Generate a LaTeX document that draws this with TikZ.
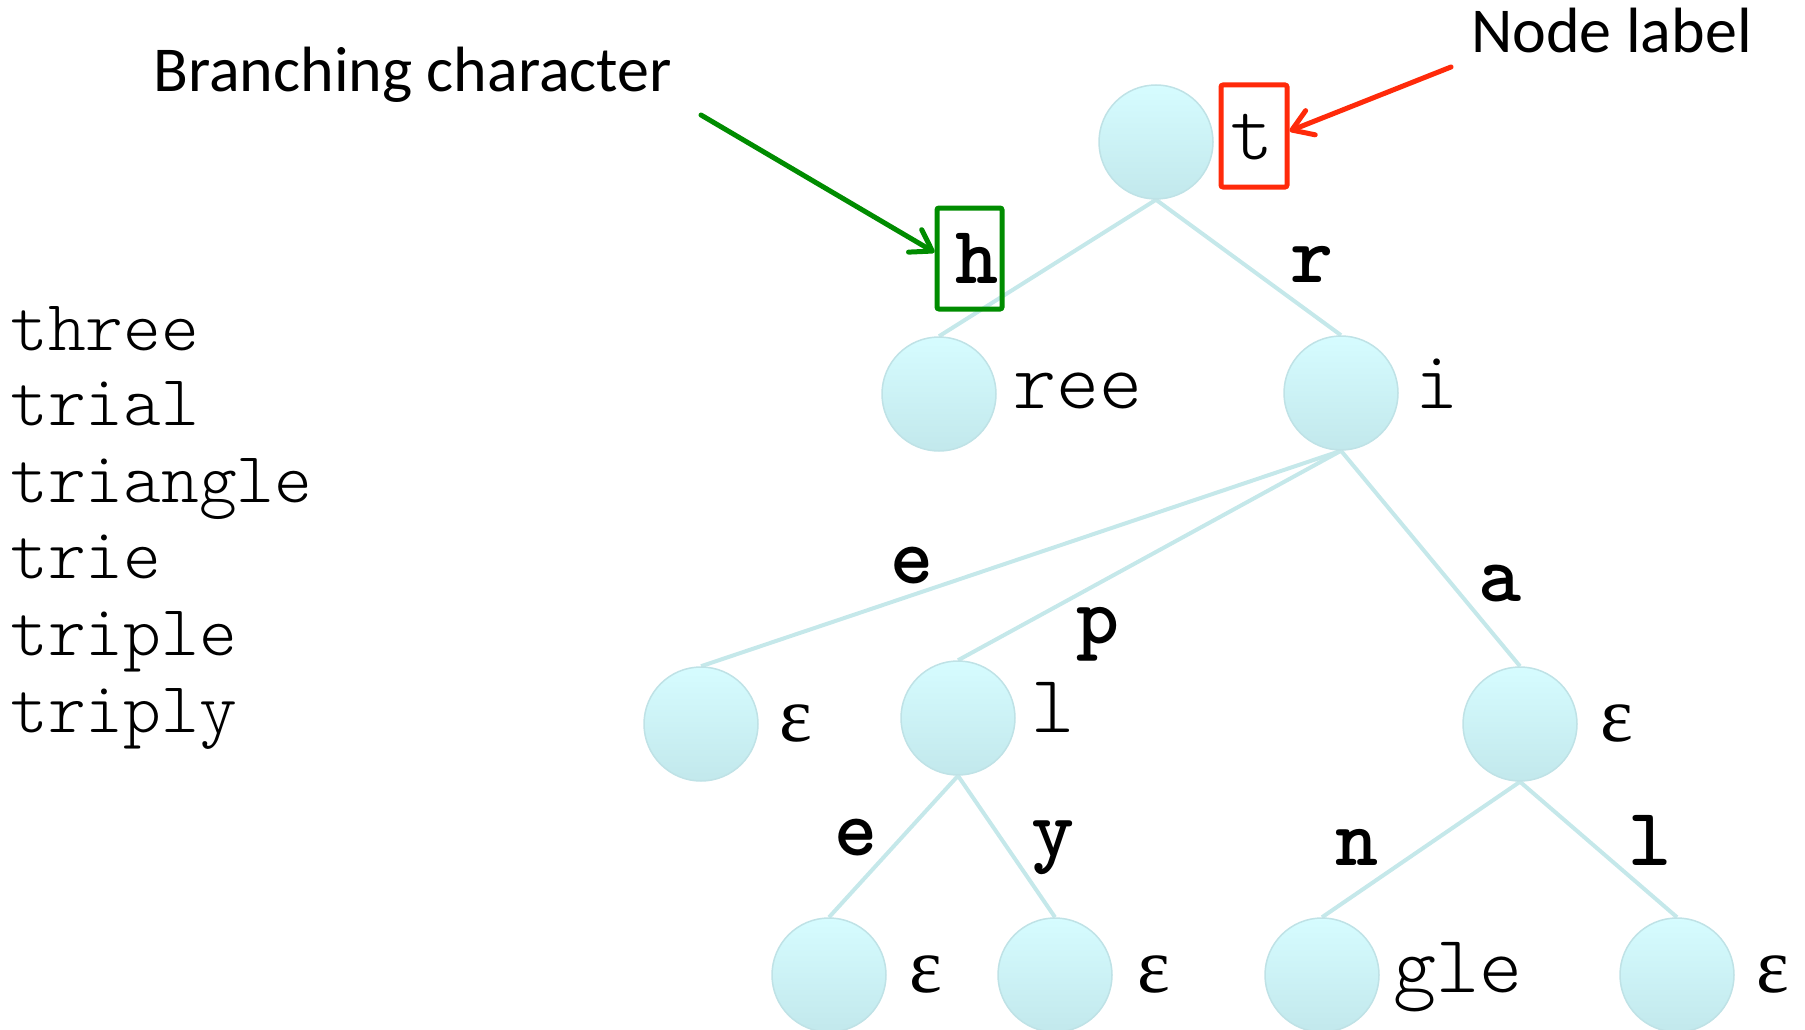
\documentclass[tikz,border=0pt]{standalone}
\usepackage{fontspec}
\setmainfont{Carlito}
\newfontfamily\greekserif{Liberation Serif}
\usetikzlibrary{arrows.meta}
\pgfdeclarelayer{bg}
\pgfsetlayers{bg,main}

\definecolor{nodetop}{HTML}{D6FCFF}
\definecolor{nodebot}{HTML}{C2E8EC}
\definecolor{nodeedge}{HTML}{BFE2E6}
\definecolor{edgecol}{HTML}{C5E8EA}
\definecolor{pointred}{HTML}{FF2A0A}
\definecolor{pointgreen}{HTML}{008C00}

% thin typewriter face for words and labels
\newcommand{\lighttt}{\ttfamily\fontseries{l}\selectfont}
\newcommand{\eps}{{\greekserif\fontsize{78pt}{86pt}\selectfont ε}}

\begin{document}
\begin{tikzpicture}[x=1pt,y=-1pt,
  trienode/.style={circle, minimum size=114pt, inner sep=0pt, draw=nodeedge,
    line width=1.5pt, top color=nodetop, bottom color=nodebot},
  edge/.style={draw=edgecol, line width=4pt},
  nodetext/.style={inner sep=0pt, font=\lighttt\fontsize{82pt}{90pt}\selectfont},
  chartext/.style={inner sep=0pt, anchor=base, font=\ttfamily\bfseries\fontsize{82pt}{90pt}\selectfont},
  wordtext/.style={inner sep=0pt, anchor=base west, font=\lighttt\fontsize{72pt}{80pt}\selectfont},
  calltext/.style={inner sep=0pt, anchor=base west, font=\fontsize{64pt}{72pt}\selectfont},
  markbox/.style={draw, line width=5pt, rounded corners=2pt, inner sep=0pt},
  pointer/.style={line width=5pt, line cap=round, line join=round,
    -{Straight Barb[length=20pt,width=26pt,line cap=round,line join=round]}}
]
\useasboundingbox (0,0) rectangle (1805,1030);

% word list
\node[wordtext] (w1) at (10,350) {three};
\node[wordtext] (w2) at (10,425) {trial};
\node[wordtext] (w3) at (10,502) {triangle};
\node[wordtext] (w4) at (10,578) {trie};
\node[wordtext] (w5) at (10,655) {triple};
\node[wordtext] (w6) at (10,732) {triply};

% trie nodes
\node[trienode] (root) at (1156,142) {};
\node[trienode] (ree)  at (939,394) {};
\node[trienode] (ri)   at (1341,393) {};
\node[trienode] (rie)  at (701,724) {};
\node[trienode] (ripl) at (958,718) {};
\node[trienode] (ria)  at (1520,724) {};
\node[trienode] (riple) at (829,975) {};
\node[trienode] (riply) at (1055,975) {};
\node[trienode] (rian)  at (1322,975) {};
\node[trienode] (rial)  at (1677,975) {};

% edges
\begin{pgfonlayer}{bg}
\draw[edge] (root.south) -- (ree.north);
\draw[edge] (root.south) -- (ri.north);
\draw[edge] (ri.south) -- (rie.north);
\draw[edge] (ri.south) -- (ripl.north);
\draw[edge] (ri.south) -- (ria.north);
\draw[edge] (ripl.south) -- (riple.north);
\draw[edge] (ripl.south) -- (riply.north);
\draw[edge] (ria.south) -- (rian.north);
\draw[edge] (ria.south) -- (rial.north);
\end{pgfonlayer}

% node labels
\node[nodetext, anchor=base] (lroot) at (1252,160) {t};
\node[nodetext, anchor=base west] (lree) at (1013,408) {ree};
\node[nodetext, anchor=base] (lri) at (1437,408) {i};
\node[nodetext, anchor=base] (lrie) at (796,741) {\eps};
\node[nodetext, anchor=base] (lripl) at (1053,732) {l};
\node[nodetext, anchor=base] (lria) at (1617,741) {\eps};
\node[nodetext, anchor=base] (lriple) at (926,992) {\eps};
\node[nodetext, anchor=base] (lriply) at (1154,992) {\eps};
\node[nodetext, anchor=base west] (lrian) at (1393,992) {gle};
\node[nodetext, anchor=base] (lrial) at (1773,992) {\eps};

% branching characters
\node[chartext] (ch) at (977,283) {h};
\node[chartext] (cr) at (1312,282) {r};
\node[chartext] (ce) at (912,583) {e};
\node[chartext] (cp) at (1098,643) {p};
\node[chartext] (ca) at (1500,601) {a};
\node[chartext] (cle) at (856,855) {e};
\node[chartext] (cly) at (1053,856) {y};
\node[chartext] (cn) at (1357,865) {n};
\node[chartext] (cl) at (1650,865) {l};

% highlight boxes
\node[markbox, draw=pointgreen, minimum width=65pt, minimum height=101pt] (hbox) at (969.5,258.5) {};
\node[markbox, draw=pointred, minimum width=66pt, minimum height=102pt] (tbox) at (1254,136) {};

% callouts
\node[calltext] (bcall) at (153,92) {Branching character};
\node[calltext] (ncall) at (1471,53) {Node label};
\coordinate (gstart) at (701,115);
\coordinate (rstart) at (1451,67);
\draw[pointer, pointgreen] (gstart) -- (hbox.170);
\draw[pointer, pointred] (rstart) -- (tbox.8);
\end{tikzpicture}
\end{document}
